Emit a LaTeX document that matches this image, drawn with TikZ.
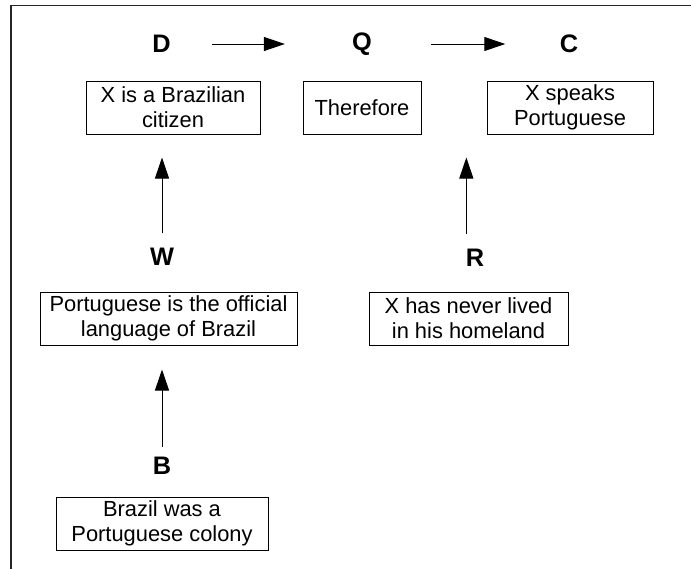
\documentclass[tikz,border=0pt]{standalone}
\usepackage{fontspec}
\setmainfont{Liberation Sans}
\usetikzlibrary{arrows.meta}
\begin{document}
\begin{tikzpicture}[x=0.75pt,y=-0.75pt,
  tag/.style={font=\fontsize{19pt}{22pt}\selectfont\bfseries, inner sep=0pt},
  claim/.style={draw=black, line width=0.75pt, align=center, inner sep=0pt,
    minimum height=39.75pt, font=\fontsize{16.4pt}{19pt}\selectfont},
  link/.style={line width=0.75pt, -{Triangle[length=15.75pt,width=10.5pt]}},
  frameline/.style={line width=0.9pt, draw=black!85}]
\useasboundingbox (0,0) rectangle (691,569);

% open frame: left and top edges
\draw[frameline] (11,569) -- (11,5.5) -- (691,5.5);

% letter tags
\node[tag] (lD) at (161.5,44) {D};
\node[tag] (lQ) at (362,44) {Q};
\node[tag] (lC) at (569,44) {C};
\node[tag] (lW) at (162,257) {W};
\node[tag] (lR) at (475,258) {R};
\node[tag] (lB) at (162,466) {B};

% statement boxes
\node[claim, minimum width=130.5pt] (bD) at (173,107.5) {X is a Brazilian\\citizen};
\node[claim, minimum width=88.5pt] (bQ) at (362,107.5) {Therefore};
\node[claim, minimum width=124.5pt] (bC) at (570,107.5) {X speaks\\Portuguese};
\node[claim, minimum width=192.75pt] (bW) at (168.5,318.5) {Portuguese is the official\\language of Brazil};
\node[claim, minimum width=149.25pt] (bR) at (468.5,318.5) {X has never lived\\in his homeland};
\node[claim, minimum width=159pt] (bB) at (162,523.5) {Brazil was a\\Portuguese colony};

% horizontal inference arrows
\draw[link] ([xshift=30.75pt]lD.east) -- ([xshift=-50.25pt]lQ.west);
\draw[link] ([xshift=44.25pt]lQ.east) -- ([xshift=-40.75pt]lC.west);

% vertical support arrows
\draw[link] ([yshift=11pt]lW.north) -- ([yshift=-17.25pt]lW.north |- bD.south);
\draw[link] ([xshift=-6.5pt,yshift=11pt]lR.north) -- ([xshift=-6.5pt,yshift=-17.25pt]lR.north |- bC.south);
\draw[link] ([yshift=7.5pt]lB.north) -- ([yshift=-18pt]lB.north |- bW.south);
\end{tikzpicture}
\end{document}
